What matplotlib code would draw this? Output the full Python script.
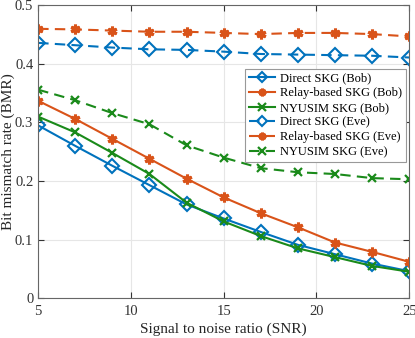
import matplotlib
matplotlib.use("Agg")
import matplotlib.pyplot as plt

plt.rcParams['font.family'] = ['Liberation Serif', 'DejaVu Serif']
plt.rcParams['mathtext.fontset'] = 'stix'

snr = [5, 7, 9, 11, 13, 15, 17, 19, 21, 23, 25]
direct_bob = [0.295, 0.260, 0.226, 0.193, 0.160, 0.136, 0.113, 0.091, 0.075, 0.059, 0.046]
relay_bob = [0.337, 0.306, 0.272, 0.238, 0.204, 0.172, 0.145, 0.121, 0.095, 0.079, 0.062]
nyusim_bob = [0.310, 0.283, 0.248, 0.212, 0.163, 0.131, 0.106, 0.085, 0.070, 0.055, 0.045]
direct_eve = [0.436, 0.432, 0.428, 0.425, 0.424, 0.421, 0.417, 0.416, 0.415, 0.414, 0.411]
relay_eve = [0.460, 0.459, 0.457, 0.455, 0.455, 0.453, 0.451, 0.453, 0.453, 0.451, 0.447]
nyusim_eve = [0.356, 0.338, 0.316, 0.297, 0.261, 0.240, 0.222, 0.215, 0.212, 0.205, 0.203]

labels = ['Direct SKG (Bob)', 'Relay-based SKG (Bob)', 'NYUSIM SKG (Bob)',
          'Direct SKG (Eve)', 'Relay-based SKG (Eve)', 'NYUSIM SKG (Eve)']

blue = '#0072BD'
orange = '#D95319'
green = '#1a8a1a'

fig = plt.figure(figsize=(4.15, 3.38), dpi=100)
ax = fig.add_axes([0.092, 0.118, 0.894, 0.866])

ast = (6, 2, 0)
dash = (0, (5, 3))
styles = [
    (direct_bob, blue, '-', 'D', dict(ms=7, mfc='none', mew=1.5)),
    (relay_bob, orange, '-', ast, dict(ms=7, mew=2.2)),
    (nyusim_bob, green, '-', 'x', dict(ms=6, mew=1.6)),
    (direct_eve, blue, dash, 'D', dict(ms=7, mfc='none', mew=1.5)),
    (relay_eve, orange, dash, ast, dict(ms=7, mew=2.2)),
    (nyusim_eve, green, dash, 'x', dict(ms=6, mew=1.6)),
]
for (vals, c, ls, mk, kw), lab in zip(styles, labels):
    ax.plot(snr, vals, color=c, linestyle=ls, marker=mk, lw=1.5, label=lab, **kw)

ax.set_xlim(5, 25)
ax.set_ylim(0, 0.5)
ax.set_xticks([5, 10, 15, 20, 25])
ax.set_yticks([0, 0.1, 0.2, 0.3, 0.4, 0.5])
ax.set_yticklabels(['0', '0.1', '0.2', '0.3', '0.4', '0.5'])
ax.grid(True, color='#e6e6e6', lw=0.8)
ax.set_axisbelow(True)
for s in ax.spines.values():
    s.set_color('#666666')
    s.set_linewidth(0.8)
ax.tick_params(direction='in', length=4, colors='#333333', labelsize=10.5, top=True, right=True)
ax.tick_params(axis='x', pad=5)
ax.set_xlabel('Signal to noise ratio (SNR)', fontsize=11, color='#262626', labelpad=3)
ax.set_ylabel('Bit mismatch rate (BMR)', fontsize=11, color='#262626')
ax.yaxis.set_label_coords(-0.062, 0.5)

leg = ax.legend(loc='upper right', bbox_to_anchor=(0.992, 0.784), fontsize=9,
                frameon=True, fancybox=False, edgecolor='#999999', framealpha=1,
                handlelength=2.1, handletextpad=0.4, borderpad=0.3, labelspacing=0.22,
                borderaxespad=0)
leg.get_frame().set_linewidth(0.8)
for h in leg.get_lines():
    h.set_markersize(5.5)

fig.savefig('out.png', dpi=100)
